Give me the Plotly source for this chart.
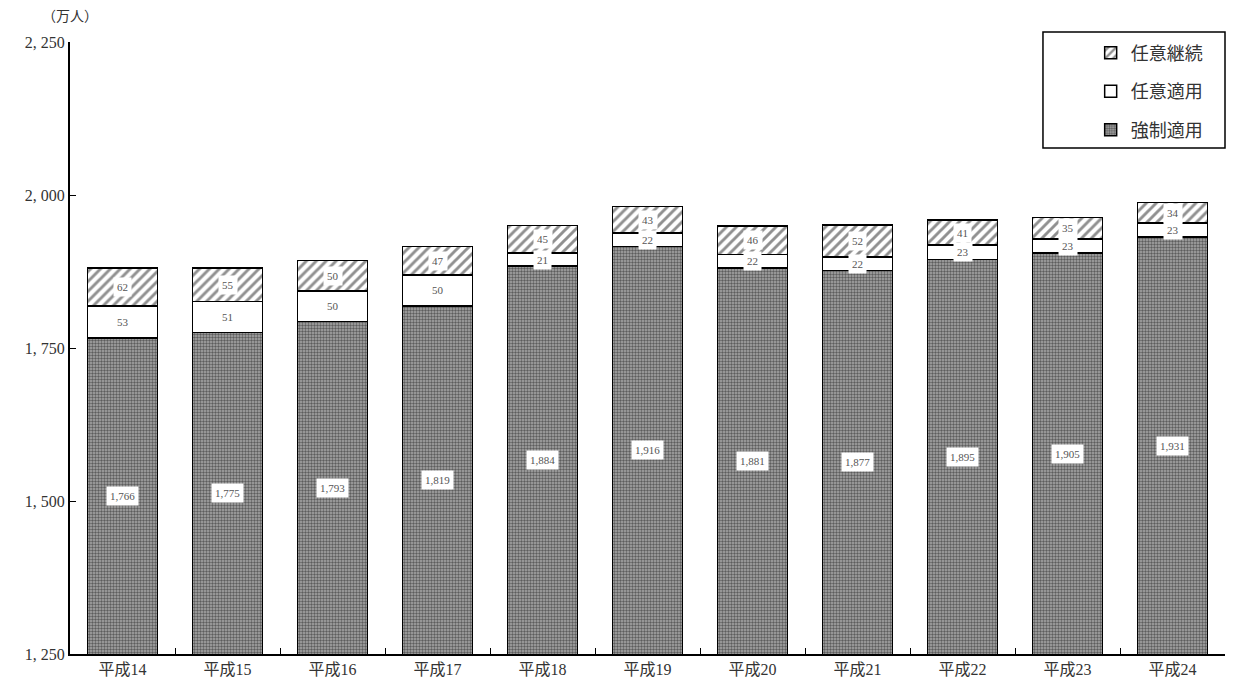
import plotly.graph_objects as go

years = ["平成14", "平成15", "平成16", "平成17", "平成18", "平成19", "平成20", "平成21", "平成22", "平成23", "平成24"]
compulsory = [1766, 1775, 1793, 1819, 1884, 1916, 1881, 1877, 1895, 1905, 1931]
voluntary_app = [53, 51, 50, 50, 21, 22, 22, 22, 23, 23, 23]
voluntary_cont = [62, 55, 50, 47, 45, 43, 46, 52, 41, 35, 34]
y_min, y_max = 1250, 2250
y_ticks = [1250, 1500, 1750, 2000, 2250]
y_ticktext = ["1, 250", "1, 500", "1, 750", "2, 000", "2, 250"]

FONT = "Liberation Serif, Noto Sans CJK JP"

fig = go.Figure()
fig.add_trace(go.Bar(
    x=years, y=compulsory, name="強制適用", legendgroup="a", legendrank=3,
    marker=dict(color="#808080", line=dict(color="black", width=1.5),
                pattern=dict(shape=".", fgcolor="#111111", bgcolor="#a8a8a8", size=3, solidity=0.5)),
))
fig.add_trace(go.Bar(
    x=years, y=voluntary_app, name="任意適用", legendgroup="b", legendrank=2,
    marker=dict(color="white", line=dict(color="black", width=1.5)),
))
fig.add_trace(go.Bar(
    x=years, y=voluntary_cont, name="任意継続", legendgroup="c", legendrank=1,
    marker=dict(color="white", line=dict(color="black", width=1.5),
                pattern=dict(shape="/", fgcolor="#222222", bgcolor="white", size=7, solidity=0.42)),
))

annotations = []
for i, yr in enumerate(years):
    c, a, v = compulsory[i], voluntary_app[i], voluntary_cont[i]
    specs = [((y_min + c) / 2, f"{c:,}"),
             (c + a / 2, str(a)),
             (c + a + v / 2, str(v))]
    for yy, txt in specs:
        annotations.append(dict(
            x=yr, y=yy, text=txt, showarrow=False,
            font=dict(family=FONT, size=11, color="#555555"),
            bgcolor="white", borderpad=3, xref="x", yref="y",
        ))

annotations.append(dict(
    x=0.0, y=1.0, xref="paper", yref="paper", yshift=16, text="（万人）",
    showarrow=False, xanchor="center", yanchor="bottom",
    font=dict(family=FONT, size=14, color="#333333"),
))

# legend frame (wider than the legend entries, as in the reference)
shapes = [dict(type="rect", xref="paper", yref="paper",
               x0=0.8424, x1=1.0, y0=0.8268, y1=1.0163,
               line=dict(color="black", width=1.5), fillcolor="white", layer="below")]

# page body has an 8px margin; compensate so the plot area lands where the reference has it
fig.update_layout(
    barmode="stack",
    bargap=0.33,
    width=1219, height=675,
    margin=dict(l=62, r=2, t=34, b=29, autoexpand=False),
    plot_bgcolor="white", paper_bgcolor="white",
    font=dict(family=FONT, size=15, color="#333333"),
    showlegend=True,
    legend=dict(
        x=0.985, y=1.012, xanchor="right", yanchor="top",
        traceorder="grouped",
        borderwidth=0, bgcolor="rgba(0,0,0,0)",
        font=dict(family=FONT, size=18, color="#333333"),
        itemwidth=30, tracegroupgap=12,
    ),
    shapes=shapes,
    annotations=annotations,
    xaxis=dict(
        showline=True, linecolor="black", linewidth=2,
        ticks="inside", tickson="boundaries", ticklen=6, tickcolor="black",
        tickfont=dict(family=FONT, size=16, color="#333333"),
    ),
    yaxis=dict(
        range=[y_min, y_max], tickvals=y_ticks, ticktext=y_ticktext,
        showgrid=False, zeroline=False,
        showline=True, linecolor="black", linewidth=2,
        ticks="inside", ticklen=6, tickcolor="black",
        tickfont=dict(family=FONT, size=16, color="#333333"),
    ),
)

fig.write_html("out.html")
